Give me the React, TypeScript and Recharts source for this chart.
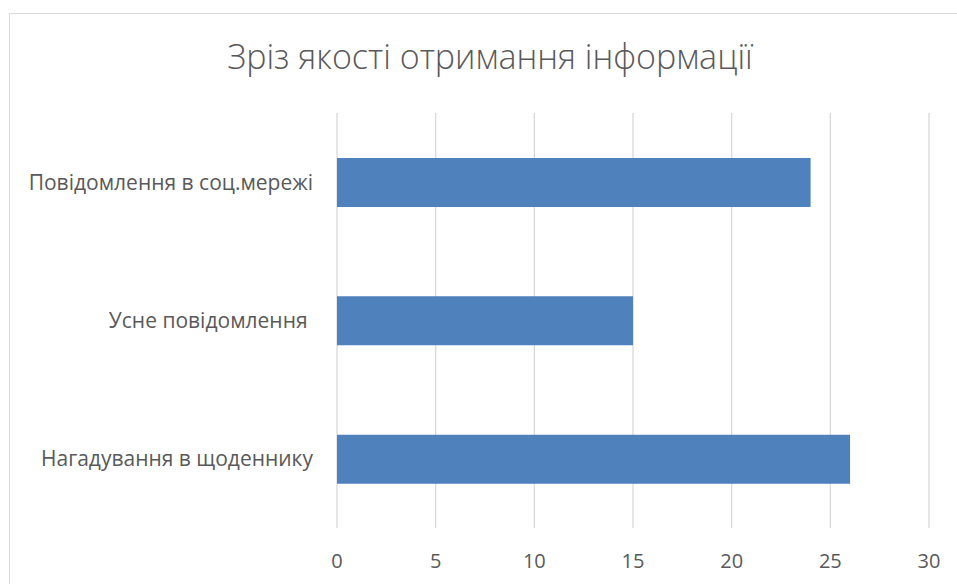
import React from "react";
import { BarChart, Bar, XAxis, YAxis, CartesianGrid } from "recharts";

const categories = ["Повідомлення в соц.мережі", "Усне повідомлення ", "Нагадування в щоденнику"];
const values = [24, 15, 26];
const xTicks = [0, 5, 10, 15, 20, 25, 30];

const data = categories.map((name, i) => ({ name, value: values[i] }));

const FONT = "'Open Sans', 'Noto Sans', sans-serif";

export default function App() {
  return (
    <div style={{ position: "absolute", left: 0, top: 0, width: 957, height: 584, overflow: "hidden", background: "#fff" }}>
      <div
        style={{
          position: "absolute",
          left: 9,
          top: 13,
          width: 1000,
          height: 700,
          border: "1.5px solid #d9d9d9",
          boxSizing: "border-box",
        }}
      />
      <div
        style={{
          position: "absolute",
          left: 0,
          width: 980,
          top: 32,
          textAlign: "center",
          fontFamily: FONT,
          fontSize: 34,
          fontWeight: 300,
          color: "#595959",
          lineHeight: "48px",
        }}
      >
        Зріз якості отримання інформації
      </div>
      <div style={{ position: "absolute", left: 0, top: 0 }}>
        <BarChart
          width={957}
          height={584}
          data={data}
          layout="vertical"
          margin={{ top: 113, right: 28, bottom: 0, left: 17 }}
          barSize={49}
        >
          <CartesianGrid horizontal={false} vertical={true} stroke="#d9d9d9" strokeWidth={1.3} />
          <XAxis
            type="number"
            domain={[0, 30]}
            ticks={xTicks}
            interval={0}
            axisLine={false}
            tickLine={false}
            tickMargin={20}
            height={56}
            tick={{ fill: "#595959", fontSize: 20, fontFamily: FONT }}
          />
          <YAxis
            type="category"
            dataKey="name"
            width={320}
            axisLine={false}
            tickLine={false}
            tickMargin={18}
            tick={{ fill: "#595959", fontSize: 21, fontFamily: FONT, style: { whiteSpace: "pre" } }}
          />
          <Bar dataKey="value" fill="#4f81bd" isAnimationActive={false} />
        </BarChart>
      </div>
    </div>
  );
}
